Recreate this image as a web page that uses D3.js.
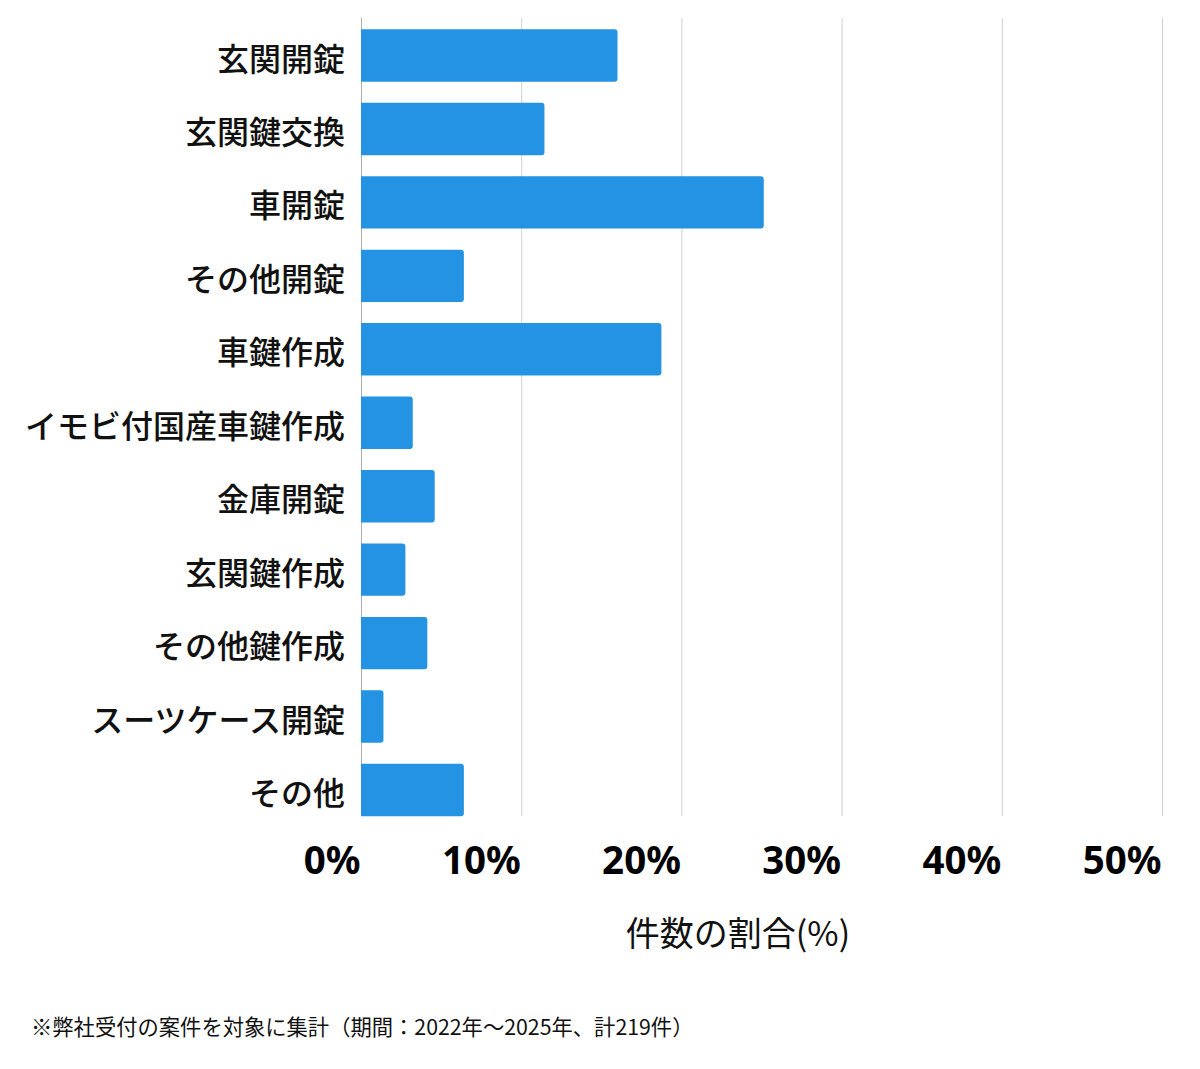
<!DOCTYPE html>
<html><head><meta charset="utf-8">
<script src="https://cdn.jsdelivr.net/npm/d3@7"></script>
<style>
html,body{margin:0;padding:0;background:#fff;}
svg{display:block;}
</style>
</head><body>
<svg id="chart" width="1200" height="1069"></svg>
<script>
const categories = ["玄関開錠","玄関鍵交換","車開錠","その他開錠","車鍵作成","イモビ付国産車鍵作成","金庫開錠","玄関鍵作成","その他鍵作成","スーツケース開錠","その他"];
const values = [15.98, 11.42, 25.11, 6.39, 18.72, 3.20, 4.57, 2.74, 4.11, 1.37, 6.39];
const tickValues = [0, 10, 20, 30, 40, 50];
const tickLabels = ["0%","10%","20%","30%","40%","50%"];
const axisTitle = "件数の割合(%)";
const footnote = "※弊社受付の案件を対象に集計（期間：2022年～2025年、計219件）";

const svg = d3.select("#chart");
const x = d3.scaleLinear().domain([0, 50]).range([361.5, 1162.5]);
const y = d3.scaleBand().domain(categories).range([18.8, 826.7]).paddingInner(0.287).paddingOuter(0.1435);

// grid
svg.append("g").selectAll("line").data(tickValues).join("line")
  .attr("x1", d => x(d)).attr("x2", d => x(d))
  .attr("y1", 18).attr("y2", 816)
  .attr("stroke", d => d === 0 ? "#b0b0b0" : "#d0d0d0").attr("stroke-width", 1);

// bars with rounded right corners
const r = 3;
svg.append("g").selectAll("path").data(values).join("path")
  .attr("fill", "#2493e3")
  .attr("d", (d, i) => {
    const x0 = x(0) - 0.5, x1 = x(d), y0 = y(categories[i]), h = y.bandwidth();
    return `M${x0},${y0}H${x1 - r}Q${x1},${y0} ${x1},${y0 + r}V${y0 + h - r}Q${x1},${y0 + h} ${x1 - r},${y0 + h}H${x0}Z`;
  });

// category labels
svg.append("g").selectAll("text").data(categories).join("text")
  .attr("x", 345).attr("y", d => y(d) + y.bandwidth() / 2 + 1)
  .attr("text-anchor", "end").attr("dominant-baseline", "central")
  .attr("font-family", "'Noto Sans CJK JP', sans-serif").attr("font-weight", 500)
  .attr("font-size", 32).attr("fill", "#111")
  .text(d => d);

// tick labels
svg.append("g").selectAll("text").data(tickValues).join("text")
  .attr("x", d => x(d) - 1).attr("y", 874)
  .attr("text-anchor", "end")
  .attr("font-family", "'Noto Sans', 'Open Sans', sans-serif").attr("font-weight", 700)
  .attr("font-size", 38.5).attr("fill", "#000")
  .text((d, i) => tickLabels[i]);

// axis title
svg.append("text").attr("x", 738).attr("y", 946).attr("text-anchor", "middle")
  .attr("font-family", "'Noto Sans CJK JP', sans-serif").attr("font-weight", 400)
  .attr("font-size", 34).attr("fill", "#111").text(axisTitle);

// footnote
svg.append("text").attr("x", 31).attr("y", 1035)
  .attr("font-family", "'Noto Sans CJK JP', sans-serif").attr("font-weight", 400)
  .attr("font-size", 21.3).attr("fill", "#111").text(footnote);
</script>
</body></html>
